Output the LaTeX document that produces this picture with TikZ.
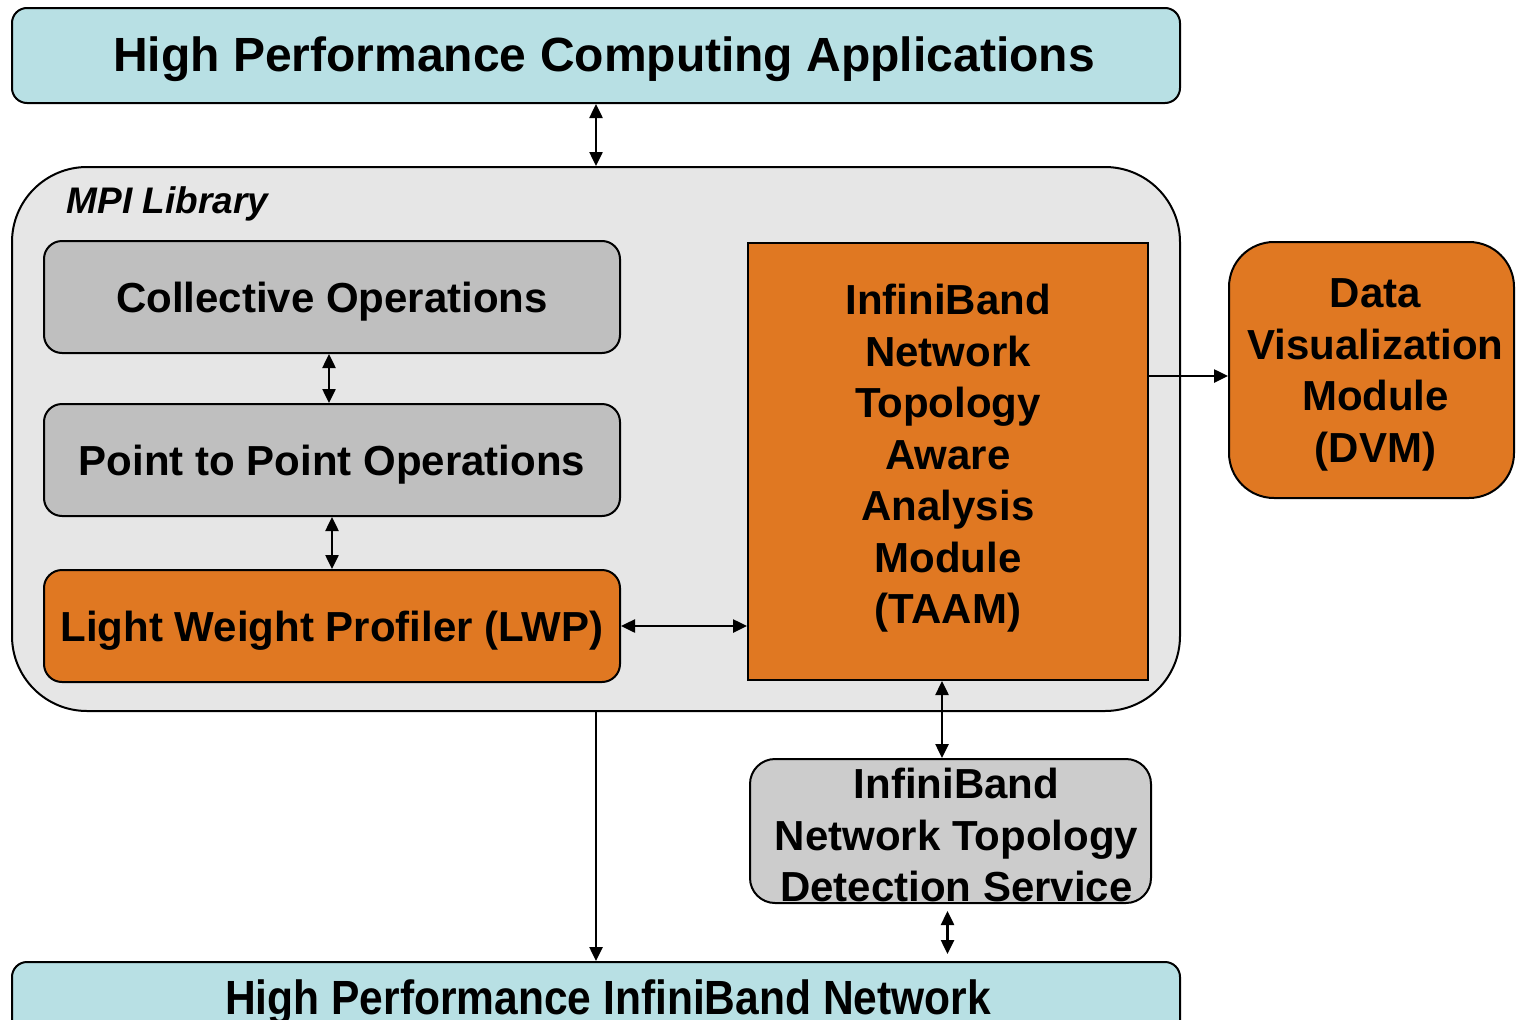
\documentclass[tikz,border=0pt]{standalone}
\usepackage{fontspec}
\setmainfont{Liberation Sans}
\usetikzlibrary{arrows.meta}
\definecolor{appcyan}{HTML}{B8E0E4}
\definecolor{libgray}{HTML}{E6E6E6}
\definecolor{opgray}{HTML}{BFBFBF}
\definecolor{svcgray}{HTML}{CCCCCC}
\definecolor{modorange}{HTML}{E07822}
\begin{document}
\begin{tikzpicture}[x=1pt,y=-1pt,
		box/.style={draw=black, line width=2pt, inner sep=0pt, align=center, font=\fontsize{42}{51.5}\selectfont\bfseries},
		txt/.style={inner sep=0pt, align=center, font=\fontsize{42}{51.5}\selectfont\bfseries},
		bar/.style={box, fill=appcyan, rounded corners=15pt, minimum width=1168pt},
		title/.style={inner sep=0pt, text depth=0pt, font=\fontsize{48}{56}\selectfont\bfseries},
		opbox/.style={box, text depth=0pt, rounded corners=18pt, minimum width=576pt, minimum height=112pt},
		link/.style={line width=2.5pt, -{Triangle[length=14pt,width=13pt]}},
		dlink/.style={line width=2.5pt, {Triangle[length=14pt,width=13pt]}-{Triangle[length=14pt,width=13pt]}}]
	\useasboundingbox (0,0) rectangle (1516,1020);
	% layers
	\node[bar, minimum height=95pt] (apps) at (596,55.5) {};
	\node[title] (appslabel) at (604,54) {High Performance Computing Applications};
	\node[box, fill=libgray, rounded corners=75pt, minimum width=1168pt, minimum height=544pt] (mpi) at (596,439) {};
	\node[anchor=west, font=\fontsize{37}{44}\selectfont\bfseries\itshape] (mpilabel) at (63,204) {MPI Library};
	\node[bar, minimum height=95pt] (net) at (596,1009.5) {};
	\node[title] (netlabel) at (608,997) {\scalebox{0.886}[1]{High Performance InfiniBand Network}};
	% inside the library
	\node[opbox, fill=opgray] (coll) at (332,297) {Collective Operations};
	\node[opbox, fill=opgray] (p2p) at (332,460) {Point to Point Operations};
	\node[opbox, fill=modorange] (lwp) at (332,626) {Light Weight Profiler (LWP)};
	\node[box, fill=modorange, minimum width=400pt, minimum height=437pt] (taam) at (948,461.5) {};
	\node[txt] (taamlabel) at (948,458.5) {InfiniBand\\Network\\Topology\\Aware\\Analysis\\Module\\(TAAM)};
	% outside
	\node[box, fill=modorange, rounded corners=45pt, minimum width=285pt, minimum height=256pt] (dvm) at (1371.5,370) {};
	\node[txt] (dvmlabel) at (1375.5,375) {Data\\Visualization\\Module\\(DVM)};
	\node[box, fill=svcgray, rounded corners=25pt, minimum width=401pt, minimum height=144pt] (detect) at (950.5,831) {};
	\node[txt] (detectlabel) at (956.5,835) {InfiniBand\\Network Topology\\Detection Service};
	% connectors
	\draw[dlink] (apps.south) -- (mpi.north);
	\draw[dlink] ([xshift=-3pt]coll.south) -- ([xshift=-3pt]p2p.north);
	\draw[dlink] (p2p.south) -- (lwp.north);
	\draw[dlink] (lwp.east) -- (lwp.east -| taam.west);
	\draw[link] (taam.east |- 0,376) -- (dvm.west |- 0,376);
	\draw[dlink] ([xshift=-6pt]taam.south) -- ([xshift=-6pt]taam.south |- detect.north);
	\draw[dlink, shorten <=7pt, shorten >=7pt] ([xshift=-3pt]detect.south) -- ([xshift=-3pt]detect.south |- net.north);
	\draw[link] (mpi.south) -- (net.north);
\end{tikzpicture}
\end{document}
